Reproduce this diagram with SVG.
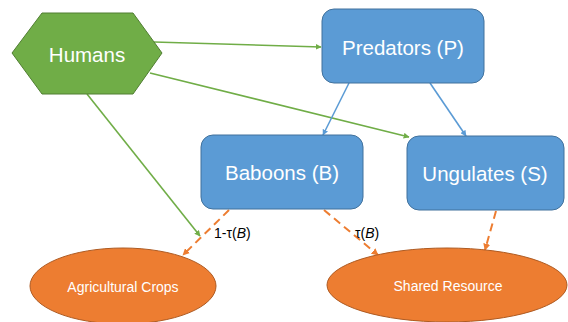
<svg xmlns="http://www.w3.org/2000/svg" width="568" height="322" viewBox="0 0 568 322">
<defs>
<style>
.box{fill:#5B9BD5;stroke:#41719C;stroke-width:1}
.hex{fill:#70AD47;stroke:#507E32;stroke-width:1}
.ell{fill:#ED7D31;stroke:#AE5A21;stroke-width:1}
.big{font-family:"Liberation Sans",Arial,sans-serif;font-size:20.5px;fill:#ffffff;text-anchor:middle}
.small{font-family:"Liberation Sans",Arial,sans-serif;font-size:14px;fill:#ffffff;text-anchor:middle}
.lbl{font-family:"Liberation Sans",Arial,sans-serif;font-size:14px;fill:#000000}
.g{stroke:#70AD47;stroke-width:1.6;fill:none}
.b{stroke:#5B9BD5;stroke-width:1.6;fill:none}
.o{stroke:#ED7D31;stroke-width:2;fill:none;stroke-dasharray:8 5}
</style>
<marker id="ag" viewBox="0 0 10 10" refX="9" refY="5" markerWidth="6" markerHeight="6" markerUnits="userSpaceOnUse" orient="auto"><path d="M0,0 L10,5 L0,10 z" fill="#70AD47"/></marker>
<marker id="ab" viewBox="0 0 10 10" refX="9" refY="5" markerWidth="6" markerHeight="6" markerUnits="userSpaceOnUse" orient="auto"><path d="M0,0 L10,5 L0,10 z" fill="#5B9BD5"/></marker>
<marker id="ao" viewBox="0 0 10 10" refX="9" refY="5" markerWidth="7" markerHeight="7" markerUnits="userSpaceOnUse" orient="auto"><path d="M0,0 L10,5 L0,10 z" fill="#ED7D31"/></marker>
</defs>
<g id="connectors">
<line class="g" x1="154" y1="42" x2="321" y2="47" marker-end="url(#ag)"/>
<line class="g" x1="150" y1="73" x2="409" y2="137" marker-end="url(#ag)"/>
<line class="g" x1="87" y1="94" x2="200" y2="236" marker-end="url(#ag)"/>
<line class="b" x1="349" y1="83" x2="323" y2="135" marker-end="url(#ab)"/>
<line class="b" x1="430" y1="83" x2="466" y2="136" marker-end="url(#ab)"/>
<line class="o" x1="229" y1="210" x2="183" y2="255" marker-end="url(#ao)"/>
<line class="o" x1="324" y1="210" x2="378" y2="255" marker-end="url(#ao)"/>
<line class="o" x1="496" y1="211" x2="485" y2="250" marker-end="url(#ao)"/>
<text class="lbl" x="214" y="238">1-τ(<tspan font-style="italic">B</tspan>)</text>
<text class="lbl" x="355" y="238">τ(<tspan font-style="italic">B</tspan>)</text>
</g>
<g id="humans">
<polygon class="hex" points="12,53 42,13 133,13 162,53 133,94 42,94"/>
<text class="big" x="87" y="62">Humans</text>
</g>
<g id="predators">
<rect class="box" x="322" y="9" width="162" height="74" rx="12"/>
<text class="big" x="403" y="55">Predators (P)</text>
</g>
<g id="baboons">
<rect class="box" x="201" y="135" width="162" height="74" rx="12"/>
<text class="big" x="282" y="180">Baboons (B)</text>
</g>
<g id="ungulates">
<rect class="box" x="407" y="136" width="157" height="74" rx="12"/>
<text class="big" x="485" y="181">Ungulates (S)</text>
</g>
<g id="crops">
<ellipse class="ell" cx="123" cy="286" rx="93" ry="38"/>
<text class="small" x="123" y="292">Agricultural Crops</text>
</g>
<g id="shared">
<ellipse class="ell" cx="447" cy="285" rx="120" ry="37"/>
<text class="small" x="448" y="291">Shared Resource</text>
</g>
</svg>
